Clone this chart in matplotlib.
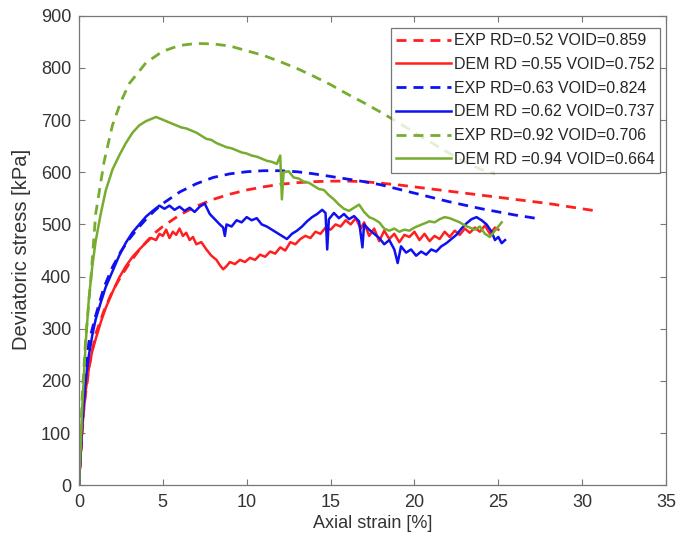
import matplotlib.pyplot as plt

plt.rcParams['font.family'] = ['Liberation Sans', 'DejaVu Sans']

# Experimental curves (smooth, dashed)
exp_052_x = [0, 0.3, 0.6, 1.0, 1.5, 2.0, 2.5, 3.0, 3.5, 4.0, 4.5, 5.0, 6.0, 7.0, 8.0, 9.0, 10, 11, 12, 13,
             14, 15, 16, 17, 18, 19, 20, 21, 22, 23, 24, 25, 26, 27, 28, 29, 30, 30.8]
exp_052_y = [0, 150, 225, 290, 335, 372, 400, 425, 447, 466, 483, 496, 518, 535, 548, 558, 566, 572, 577, 580,
             582, 583, 583, 582, 579, 576, 572, 568, 564, 560, 556, 552, 548, 544, 540, 535, 530, 526]

exp_063_x = [0, 0.3, 0.6, 1.0, 1.5, 2.0, 2.5, 3.0, 3.5, 4.0, 4.5, 5.0, 6.0, 7.0, 8.0, 9.0, 10, 11, 12, 13,
             14, 15, 16, 17, 18, 19, 20, 21, 22, 23, 24, 25, 26, 27, 27.5]
exp_063_y = [0, 190, 275, 325, 380, 418, 448, 472, 492, 510, 526, 540, 562, 578, 590, 597, 601, 603, 603, 601,
             597, 592, 587, 582, 576, 568, 560, 552, 544, 537, 530, 524, 518, 513, 510]

exp_092_x = [0, 0.2, 0.4, 0.7, 1.0, 1.5, 2.0, 2.5, 3.0, 4.0, 5.0, 6.0, 7.0, 8.0, 9.0, 10, 11, 12, 13, 14,
             15, 16, 17, 18, 19, 20, 21, 22, 23, 24, 24.8]
exp_092_y = [0, 170, 280, 390, 520, 620, 690, 735, 770, 810, 832, 843, 847, 846, 842, 833, 824, 812, 799, 784,
             768, 750, 733, 715, 696, 676, 657, 638, 620, 605, 598]

# DEM curves (noisy, solid)
dem_055_x = [0, 0.2, 0.4, 0.6, 0.8, 1.0, 1.3, 1.6, 2.0, 2.4, 2.8, 3.2, 3.6, 4.0, 4.3, 4.6, 4.8, 5.0, 5.2, 5.4,
             5.6, 5.8, 6.0, 6.2, 6.4, 6.6, 6.8, 7.0, 7.3, 7.6, 7.9, 8.2, 8.4, 8.6, 8.8, 9.0, 9.3, 9.6, 9.9, 10.2,
             10.5, 10.8, 11.1, 11.4, 11.7, 12.0, 12.3, 12.6, 12.9, 13.2, 13.5, 13.8, 14.1, 14.4, 14.7, 15.0, 15.3,
             15.6, 15.9, 16.2, 16.5, 16.8, 17.0, 17.3, 17.6, 17.9, 18.2, 18.5, 18.8, 19.1, 19.4, 19.7, 20.0, 20.3,
             20.6, 20.9, 21.2, 21.5, 21.8, 22.1, 22.4, 22.7, 23.0, 23.3, 23.6, 23.9, 24.2, 24.5, 24.8, 25.0]
dem_055_y = [0, 110, 180, 225, 258, 280, 312, 340, 370, 398, 420, 438, 452, 465, 474, 470, 482, 478, 490, 474,
             486, 480, 492, 478, 484, 470, 476, 462, 466, 452, 440, 432, 422, 414, 420, 428, 424, 432, 428, 436,
             432, 442, 438, 448, 444, 456, 450, 466, 462, 472, 478, 474, 486, 482, 494, 490, 500,
             496, 508, 500, 512, 492, 504, 478, 492, 468, 488, 472, 482, 466, 480, 476, 486, 470,
             482, 468, 478, 472, 486, 476, 488, 480, 492, 484, 494, 486, 498, 482, 494, 490]

dem_062_x = [0, 0.2, 0.4, 0.6, 0.8, 1.0, 1.3, 1.6, 2.0, 2.4, 2.8, 3.2, 3.6, 4.0, 4.4, 4.8, 5.1, 5.4, 5.7, 6.0,
             6.3, 6.6, 6.9, 7.2, 7.5, 7.8, 8.1, 8.4, 8.6, 8.7, 8.8, 9.1, 9.4, 9.7, 10.0, 10.3, 10.6, 10.9, 11.2,
             11.5, 11.8, 12.1, 12.4, 12.7, 13.0, 13.3, 13.6, 13.9, 14.2, 14.5, 14.7, 14.8, 14.9, 15.2, 15.5, 15.8,
             16.1, 16.4, 16.7, 16.9, 17.0, 17.3, 17.6, 17.9, 18.2, 18.5, 18.8, 19.0, 19.2, 19.5, 19.8, 20.1, 20.4,
             20.7, 21.0, 21.3, 21.6, 21.9, 22.2, 22.5, 22.8, 23.1, 23.4, 23.7, 24.0, 24.3, 24.6, 24.8, 25.0,
             25.2, 25.4]
dem_062_y = [0, 120, 200, 250, 288, 318, 350, 380, 410, 440, 465, 485, 500, 515, 526, 536, 530, 536, 528, 534,
             526, 532, 524, 534, 540, 520, 510, 500, 494, 478, 500, 496, 508, 504, 514, 508, 512, 500, 496,
             490, 484, 478, 472, 482, 488, 496, 506, 514, 520, 528, 522, 452, 510, 522, 512, 520,
             510, 516, 506, 456, 500, 490, 482, 474, 462, 470, 452, 426, 458, 446, 452, 440, 448,
             442, 452, 448, 458, 464, 472, 480, 492, 502, 510, 514, 508, 500, 486, 470, 476,
             464, 470]

dem_094_x = [0, 0.2, 0.4, 0.6, 0.8, 1.0, 1.3, 1.6, 2.0, 2.4, 2.8, 3.2, 3.6, 4.0, 4.3, 4.6, 4.9, 5.2, 5.5, 5.8,
             6.1, 6.4, 6.7, 7.0, 7.3, 7.6, 7.9, 8.2, 8.5, 8.8, 9.1, 9.4, 9.7, 10.0, 10.3, 10.6, 10.9, 11.2, 11.5,
             11.8, 12.0, 12.1, 12.2, 12.5, 12.8, 13.1, 13.4, 13.7, 14.0, 14.3, 14.6, 14.9, 15.2, 15.5, 15.8, 16.1,
             16.4, 16.7, 17.0, 17.3, 17.6, 17.9, 18.2, 18.5, 18.8, 19.1, 19.4, 19.7, 20.0, 20.3, 20.6, 20.9, 21.2,
             21.5, 21.8, 22.1, 22.4, 22.7, 23.0, 23.3, 23.6, 23.9, 24.2, 24.5, 24.8, 25.0, 25.2]
dem_094_y = [0, 150, 270, 360, 420, 468, 520, 565, 605, 632, 656, 676, 690, 698, 702, 706, 702, 698, 694, 690,
             686, 684, 680, 676, 670, 664, 662, 656, 652, 648, 646, 642, 638, 636, 632, 630, 626, 622, 620,
             616, 632, 548, 600, 602, 590, 588, 582, 580, 574, 568, 566, 556, 548, 538, 530, 526,
             532, 538, 524, 514, 510, 504, 492, 488, 492, 486, 490, 488, 494, 498, 502, 506, 504,
             510, 514, 512, 508, 504, 498, 494, 490, 496, 482, 476, 488, 496, 504]

labels = ['EXP RD=0.52 VOID=0.859', 'DEM RD =0.55 VOID=0.752',
          'EXP RD=0.63 VOID=0.824', 'DEM RD =0.62 VOID=0.737',
          'EXP RD=0.92 VOID=0.706', 'DEM RD =0.94 VOID=0.664']

red = '#ff1f1f'
blue = '#1010f0'
green = '#77ac30'
dash = (3.6, 2.5)

fig = plt.figure(figsize=(6.86, 5.44), dpi=100)
ax = fig.add_axes([0.115, 0.108, 0.856, 0.863])

ax.plot(exp_052_x, exp_052_y, color=red, lw=2, dashes=dash, label=labels[0])
ax.plot(dem_055_x, dem_055_y, color=red, lw=1.8, label=labels[1])
ax.plot(exp_063_x, exp_063_y, color=blue, lw=2, dashes=dash, label=labels[2])
ax.plot(dem_062_x, dem_062_y, color=blue, lw=1.8, label=labels[3])
ax.plot(exp_092_x, exp_092_y, color=green, lw=2, dashes=dash, label=labels[4])
ax.plot(dem_094_x, dem_094_y, color=green, lw=1.8, label=labels[5])

ax.set_xlim(0, 35)
ax.set_ylim(0, 900)
ax.set_xticks(range(0, 36, 5))
ax.set_yticks(range(0, 901, 100))
ax.tick_params(direction='in', top=True, right=True, length=4, width=0.8,
               colors='#777777', labelcolor='#333333', labelsize=13)
ax.tick_params(axis='y', pad=5.5)
ax.tick_params(axis='x', pad=6.5)
for s in ax.spines.values():
    s.set_color('#777777')
    s.set_linewidth(0.9)

ax.set_xlabel('Axial strain [%]', fontsize=13, color='#333333')
ax.set_ylabel('Deviatoric stress [kPa]', fontsize=14.5, color='#333333')
ax.xaxis.set_label_coords(0.5, -0.063)
ax.yaxis.set_label_coords(-0.082, 0.503)

leg = ax.legend(loc='upper right', bbox_to_anchor=(0.99, 0.975), fontsize=11.5,
                frameon=True, fancybox=False, handlelength=3.4, handletextpad=0.2,
                borderpad=0.35, labelspacing=0.55, borderaxespad=0)
leg.get_frame().set_edgecolor('#555555')
leg.get_frame().set_linewidth(0.9)
for t in leg.get_texts():
    t.set_color('#262626')

fig.savefig('out.png', dpi=100)
